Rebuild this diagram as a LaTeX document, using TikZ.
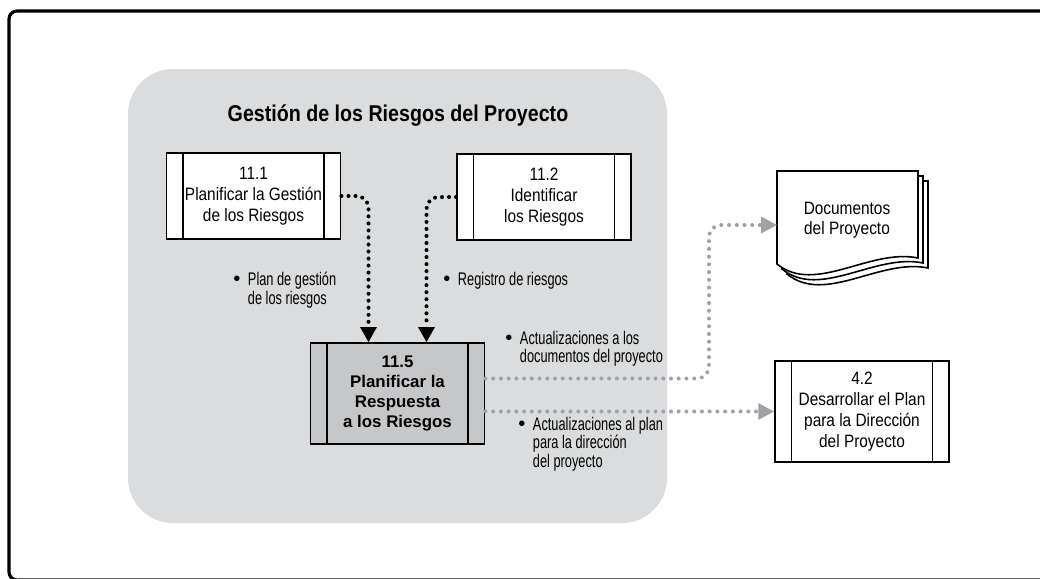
\documentclass[tikz,border=0pt]{standalone}
\usepackage{fontspec}
\setmainfont{Liberation Sans}
\newfontfamily\boxfont{Liberation Sans}[FakeStretch=0.86]
\newfontfamily\labfont{Liberation Sans}[FakeStretch=0.7]
\usetikzlibrary{arrows.meta,positioning,calc}

\definecolor{areagray}{RGB}{219,220,221}
\definecolor{boxgray}{RGB}{198,199,201}
\definecolor{dotgray}{RGB}{160,162,165}

\newcommand{\bul}{\makebox[0.8em][l]{\normalfont\fontsize{11.5}{10}\selectfont\textbullet}}
\newcommand{\ind}{\hspace*{0.8em}}

\begin{document}
\begin{tikzpicture}[
    x=0.02cm, y=-0.02cm,
    proc/.style={draw, line width=1.1pt, fill=white, minimum width=3.48cm, minimum height=1.72cm,
        inner sep=0pt, align=center, font=\boxfont\fontsize{10.2}{11.8}\selectfont,
        path picture={
            \draw[line width=1.1pt] ([xshift=0.33cm]path picture bounding box.north west) -- ([xshift=0.33cm]path picture bounding box.south west);
            \draw[line width=1.1pt] ([xshift=-0.33cm]path picture bounding box.north east) -- ([xshift=-0.33cm]path picture bounding box.south east);
        }},
    lab/.style={inner sep=0pt, anchor=north west, align=left, font=\labfont\fontsize{10.4}{10.4}\selectfont},
    docline/.style={line width=0.9pt, fill=white},
    blkdot/.style={line width=2.3pt, dash pattern=on 0pt off 4pt, line cap=round, rounded corners=0.24cm,
        -{Triangle[length=8.5pt,width=9.6pt,line width=0pt]}},
    grydot/.style={dotgray, line width=2.3pt, dash pattern=on 0pt off 4.4pt, line cap=round, rounded corners=0.24cm,
        -{Triangle[length=9pt,width=9.6pt,line width=0pt]}}
]
\useasboundingbox (0,0) rectangle (1040,578);
\clip (0,0) rectangle (1040,578);

% frame and group area
\draw[line width=1.8pt, rounded corners=0.16cm] (9,11) rectangle (1070,580);
\fill[areagray, rounded corners=0.9cm] (128,69) rectangle (667,523);
\node[font=\boxfont\bfseries\fontsize{13}{15}\selectfont] (title) at (398,116) {Gestión de los Riesgos del Proyecto};

% processes
\node[proc] (p111) at (253.5,196) {11.1\\Planificar la Gestión\\de los Riesgos};
\node[proc] (p112) at (544,197) {11.2\\Identificar\\los Riesgos};
\node[proc, fill=boxgray, minimum height=2.02cm, font=\normalfont\bfseries\fontsize{9.6}{11.5}\selectfont] (p115) at (397.5,393.5) {11.5\\Planificar la\\Respuesta\\a los Riesgos};
\node[proc, minimum height=2.02cm] (p42) at (862,411.5) {4.2\\Desarrollar el Plan\\para la Dirección\\del Proyecto};

% document stack
\draw[docline] (787,181) -- (928,181) -- (928,268) .. controls (880,258) and (825,305) .. (787,274) -- cycle;
\draw[docline] (782,176) -- (923,176) -- (923,263) .. controls (875,253) and (820,300) .. (782,269) -- cycle;
\draw[docline] (777,171) -- (918,171) -- (918,258) .. controls (870,248) and (815,295) .. (777,264) -- cycle;
\node[font=\boxfont\fontsize{10.2}{11.4}\selectfont, align=center] (docs) at (847,220.5) {Documentos\\del Proyecto};
\coordinate (docin) at (777,225);

% inputs
\draw[blkdot] (p111.east) -| ($(p115.north)+(-29,0)$);
\draw[blkdot] (p112.west) -| ($(p115.north)+(29,0)$);
\node[lab] (lplan) at (233,272) {\bul Plan de gestión\\\ind de los riesgos};
\node[lab] (lreg) at (443,272) {\bul Registro de riesgos};

% outputs
\draw[grydot] ($(p115.east)+(0,-15)$) -| ($(docin)+(-68,0)$) -- (docin);
\draw[grydot] (p115.east |- p42.west) -- (p42.west);
\node[lab] (ldocs) at (505,331) {\bul Actualizaciones a los\\\ind documentos del proyecto};
\node[lab] (lplan2) at (518,417) {\bul Actualizaciones al plan\\\ind para la dirección\\\ind del proyecto};
\end{tikzpicture}
\end{document}
